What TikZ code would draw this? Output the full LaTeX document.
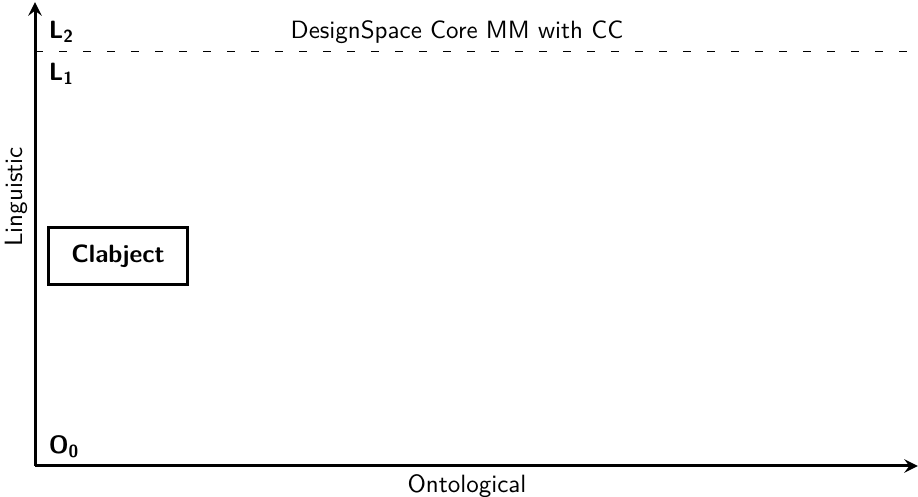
\documentclass[tikz,border=0pt]{standalone}
\usepackage{fontspec}
\usetikzlibrary{arrows.meta}
\renewcommand\familydefault{\sfdefault}
\begin{document}
\begin{tikzpicture}[x=0.4pt,y=-0.4pt,
  axis/.style={line width=1.2pt,-{Stealth[length=5.5pt,width=5.4pt,inset=2pt]}},
  lbl/.style={font=\bfseries, anchor=west},
  boxst/.style={draw, line width=1.2pt, minimum width=55.6pt, minimum height=22.8pt, font=\bfseries},
  levelline/.style={dash pattern=on 3pt off 6.6pt, line width=0.4pt}]
\useasboundingbox (0,0) rectangle (918,497);
\coordinate (O) at (35,466);
\coordinate (ytop) at (35,2);
\coordinate (xend) at (918,466);
\draw[axis] (O) -- (ytop);
\draw[axis] (O) -- (xend);
\coordinate (dl) at (35,52);
\coordinate (dr) at (918,52);
\draw[levelline] (dl) -- (dr);
\node[lbl] (L2) at (40,32) {L\textsubscript{2}};
\node[lbl] (L1) at (40,74) {L\textsubscript{1}};
\node[lbl] (O0) at (40,447) {O\textsubscript{0}};
\node (title) at (457,32) {DesignSpace Core MM with CC};
\node[boxst] (clab) at (118,256) {Clabject};
\node[rotate=90] (ling) at (16,197) {Linguistic};
\node (onto) at (467,486) {Ontological};
\end{tikzpicture}
\end{document}
